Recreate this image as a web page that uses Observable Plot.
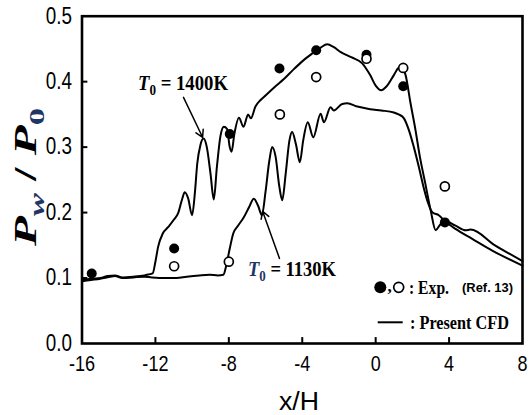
<!DOCTYPE html>
<html><head><meta charset="utf-8">
<script src="https://cdn.jsdelivr.net/npm/d3@7"></script>
<script src="https://cdn.jsdelivr.net/npm/@observablehq/plot@0.6"></script>
<style>html,body{margin:0;padding:0;background:#fff}#chart{width:532px;height:415px}</style>
</head><body><div id="chart"></div>
<script>
// ---- data ----
const xTicks = [-16, -12, -8, -4, 0, 4, 8];
const yTicks = [0, 0.1, 0.2, 0.3, 0.4, 0.5];

const cfd1400X = [-16,-15.5,-15,-14.6,-14.2,-13.8,-13.2,-12.6,-12.3,-12.15,-12.0,-11.85,-11.6,-11.3,-11.0,-10.75,-10.55,-10.4,-10.22,-10.0,-9.85,-9.72,-9.55,-9.38,-9.2,-9.0,-8.82,-8.65,-8.45,-8.27,-8.1,-7.95,-7.85,-7.7,-7.45,-7.2,-6.95,-6.8,-6.55,-6.27,-6.0,-5.5,-5.0,-4.5,-4.0,-3.5,-3.0,-2.64,-2.3,-1.9,-1.3,-0.73,-0.3,0.0,0.3,0.6,0.99,1.25,1.4,1.63,1.9,2.17,2.41,2.7,3.0,3.27,3.5,3.77,4.35,4.9,5.17,6.5,8.0];
const cfd1400Y = [0.097,0.099,0.100,0.103,0.104,0.101,0.102,0.104,0.106,0.107,0.125,0.148,0.168,0.178,0.189,0.200,0.220,0.231,0.222,0.196,0.230,0.275,0.303,0.313,0.300,0.260,0.220,0.270,0.318,0.331,0.328,0.300,0.293,0.320,0.345,0.331,0.350,0.344,0.362,0.372,0.379,0.392,0.404,0.418,0.431,0.442,0.452,0.457,0.453,0.445,0.437,0.428,0.410,0.394,0.387,0.393,0.410,0.421,0.422,0.410,0.367,0.326,0.285,0.245,0.203,0.173,0.181,0.187,0.180,0.173,0.174,0.150,0.126];

const cfd1130X = [-16,-15.5,-15,-14.6,-14.2,-13.8,-13.2,-12.6,-12.2,-11.5,-10.85,-10.3,-9.6,-9.04,-8.6,-8.3,-8.15,-7.95,-7.76,-7.5,-7.2,-6.9,-6.64,-6.4,-6.2,-6.0,-5.8,-5.64,-5.45,-5.25,-5.09,-4.9,-4.7,-4.55,-4.35,-4.13,-3.95,-3.7,-3.4,-3.0,-2.82,-2.46,-2.28,-1.82,-1.55,-1.0,-0.3,0.3,0.99,1.25,1.54,1.81,2.08,2.35,2.6,2.85,3.1,3.44,3.77,4.35,5.26,6.35,8.0];
const cfd1130Y = [0.095,0.097,0.099,0.101,0.103,0.100,0.101,0.102,0.101,0.100,0.100,0.102,0.104,0.105,0.104,0.105,0.118,0.145,0.168,0.180,0.192,0.208,0.221,0.210,0.196,0.232,0.278,0.300,0.285,0.240,0.219,0.260,0.310,0.323,0.305,0.277,0.310,0.338,0.315,0.351,0.338,0.361,0.356,0.366,0.367,0.362,0.358,0.356,0.353,0.350,0.344,0.326,0.300,0.270,0.240,0.215,0.200,0.196,0.187,0.175,0.160,0.142,0.119];

const expFilledX = [-15.47, -10.98, -7.95, -5.24, -3.24, -0.5, 1.5, 3.77];
const expFilledY = [0.107, 0.145, 0.320, 0.420, 0.448, 0.441, 0.393, 0.185];
const expOpenX = [-10.98, -8.0, -5.22, -3.24, -0.5, 1.5, 3.77];
const expOpenY = [0.118, 0.125, 0.350, 0.407, 0.435, 0.421, 0.240];

// annotation arrows (data units): label -> curve
const arrowX1 = [-10.47, -5.24];
const arrowY1 = [0.376, 0.130];
const arrowX2 = [-9.43, -6.16];
const arrowY2 = [0.315, 0.202];

// ---- build ----
const zip = (xs, ys) => xs.map((x, i) => ({x, y: ys[i]}));
const line1400 = zip(cfd1400X, cfd1400Y);
const line1130 = zip(cfd1130X, cfd1130Y);
const filled = zip(expFilledX, expFilledY);
const open = zip(expOpenX, expOpenY);
const arrows = arrowX1.map((x1, i) => ({x1, y1: arrowY1[i], x2: arrowX2[i], y2: arrowY2[i]}));
const innerX = xTicks.slice(1, -1);
const innerY = yTicks.slice(1, -1);

const serif = "'Liberation Serif','Times New Roman',serif";
const sans = "'Liberation Sans',Arial,sans-serif";
const navy = "#1f3566";

const plot = Plot.plot({
  width: 532, height: 415,
  marginLeft: 81.5, marginRight: 10, marginTop: 15.7, marginBottom: 72,
  x: {domain: [-16, 8]},
  y: {domain: [0, 0.5]},
  style: {fontFamily: sans, background: "#fff", color: "#000"},
  marks: [
    Plot.line(line1130, {x: "x", y: "y", stroke: "#000", strokeWidth: 2, curve: "monotone-x"}),
    Plot.line(line1400, {x: "x", y: "y", stroke: "#000", strokeWidth: 2, curve: "monotone-x"}),
    Plot.dot(filled, {x: "x", y: "y", r: 5, fill: "#000", stroke: "none"}),
    Plot.dot(open, {x: "x", y: "y", r: 4.5, fill: "#fff", stroke: "#000", strokeWidth: 1.7}),
    Plot.arrow(arrows, {x1: "x1", y1: "y1", x2: "x2", y2: "y2", stroke: "#000", strokeWidth: 1.5, headLength: 8}),
    Plot.ruleX(innerX, {x: d => d, y1: 0, y2: 0.009, stroke: "#000", strokeWidth: 2}),
    Plot.ruleY(innerY, {y: d => d, x1: -16, x2: -15.68, stroke: "#000", strokeWidth: 2}),
    Plot.axisX({ticks: xTicks, tickSize: 0, tickPadding: 12, tickFormat: d => String(d), fontSize: 22, label: null, className: "xt"}),
    Plot.axisY({ticks: yTicks, tickSize: 0, tickPadding: 10, tickFormat: d3.format(".1f"), fontSize: 23, label: null, className: "yt"}),
    Plot.frame({stroke: "#000", strokeWidth: 2.6})
  ]
});

const svg = d3.select(plot);

function addText(g, o, parts) {
  const t = g.append("text")
    .attr("x", o.x).attr("y", o.y)
    .attr("font-family", o.family).attr("font-size", o.size)
    .attr("font-weight", o.weight || "bold")
    .attr("text-anchor", o.anchor || "start")
    .attr("fill", "#000");
  if (o.length) t.attr("textLength", o.length).attr("lengthAdjust", "spacingAndGlyphs");
  if (o.rotate) t.attr("transform", `rotate(${o.rotate},${o.x},${o.y})`);
  let shift = 0;
  for (const p of parts) {
    const s = t.append("tspan").text(p.t);
    if (p.italic) s.attr("font-style", "italic");
    if (p.fill) s.attr("fill", p.fill);
    if (p.family) s.attr("font-family", p.family);
    if (p.size) s.attr("font-size", p.size);
    const want = p.sub ? o.size * 0.25 : 0;
    if (want !== shift) { s.attr("dy", want - shift); shift = want; }
  }
  return t;
}

const g = svg.append("g");
// y label
addText(g, {x: 36, y: 177, size: 31, family: serif, anchor: "middle", rotate: -90, length: 138}, [
  {t: "P", italic: true},
  {t: "w", italic: true, sub: true, size: 22, fill: navy},
  {t: " / "},
  {t: "P", italic: true},
  {t: "0", sub: true, size: 22, fill: navy}
]);
// x label
addText(g, {x: 299, y: 410, size: 25, family: sans, weight: "normal", anchor: "middle", length: 40}, [{t: "x/H"}]);
// T0 labels
addText(g, {x: 138, y: 90, size: 20, family: serif, length: 90}, [
  {t: "T", italic: true}, {t: "0", sub: true, size: 14}, {t: " = 1400K"}
]);
addText(g, {x: 248, y: 276, size: 20, family: serif, length: 88}, [
  {t: "T", italic: true, fill: navy}, {t: "0", sub: true, size: 14, fill: navy}, {t: " = 1130K"}
]);
// legend
g.append("circle").attr("cx", 380.3).attr("cy", 287.3).attr("r", 6).attr("fill", "#000");
addText(g, {x: 387.5, y: 292, size: 17, family: serif}, [{t: ","}]);
g.append("circle").attr("cx", 398.7).attr("cy", 287.3).attr("r", 5).attr("fill", "#fff").attr("stroke", "#000").attr("stroke-width", 1.7);
addText(g, {x: 409, y: 294, size: 19, family: serif, length: 40}, [{t: ": Exp."}]);
addText(g, {x: 462, y: 292, size: 13, family: sans, length: 51}, [{t: "(Ref. 13)"}]);
g.append("line").attr("x1", 377.7).attr("x2", 402.7).attr("y1", 322.3).attr("y2", 322.3).attr("stroke", "#000").attr("stroke-width", 2);
addText(g, {x: 410, y: 329, size: 19, family: serif, length: 99}, [{t: ": Present CFD"}]);

document.getElementById("chart").appendChild(plot);

// condense the tick labels horizontally (reference uses a narrow face)
svg.selectAll("g[aria-label$='tick label'] text, .xt text, .yt text").each(function () {
  const len = this.getComputedTextLength();
  if (len > 0) {
    this.setAttribute("textLength", (len * 0.82).toFixed(1));
    this.setAttribute("lengthAdjust", "spacingAndGlyphs");
  }
});
</script>
</body></html>
